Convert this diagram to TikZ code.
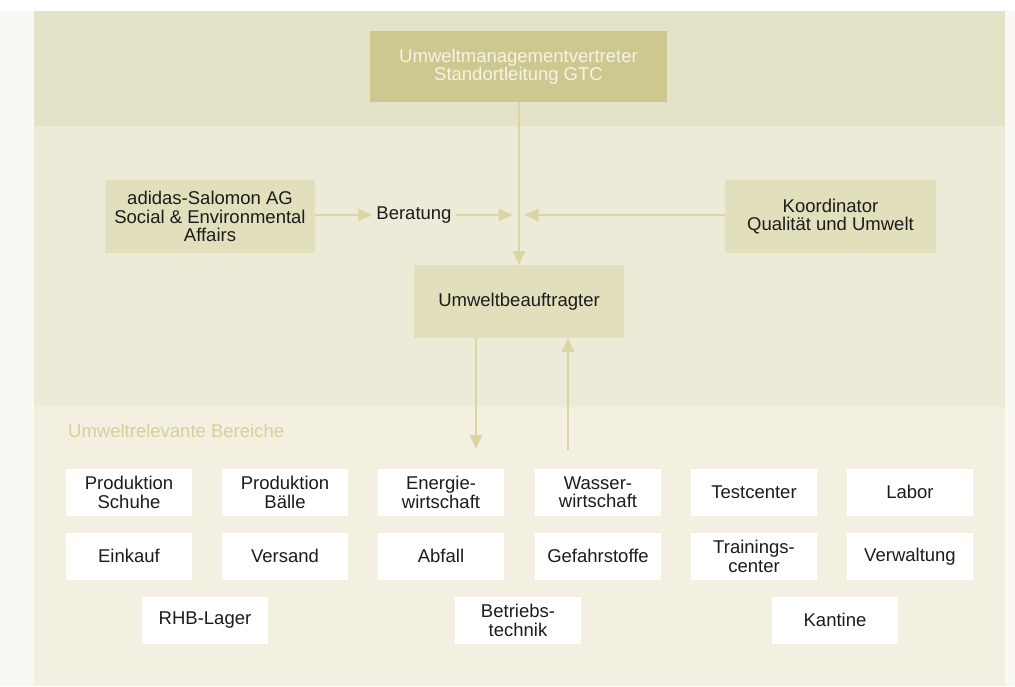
\documentclass[tikz,border=0pt]{standalone}
\usepackage{fontspec}
\setmainfont{Liberation Sans}
\usetikzlibrary{arrows.meta}
\definecolor{outerbg}{HTML}{F9F8F3}
\definecolor{topband}{HTML}{E4E3C7}
\definecolor{midband}{HTML}{ECEBD7}
\definecolor{botband}{HTML}{F3F0E2}
\definecolor{darkbox}{HTML}{CDC890}
\definecolor{lightbox}{HTML}{E2DFBC}
\definecolor{arrowcol}{HTML}{DAD5A3}
\definecolor{labelcol}{HTML}{D6CF98}
\definecolor{toptext}{HTML}{F6F4E4}
\definecolor{txt}{HTML}{1C1C1C}
\tikzset{
  basefont/.style={font=\fontsize{18.5}{18.3}\selectfont},
  boxbase/.style={basefont, align=center, inner sep=0pt, text=txt},
  topbox/.style={boxbase, fill=darkbox, text=toptext, minimum width=297pt, minimum height=71pt},
  midbox/.style={boxbase, fill=lightbox, minimum width=210pt, minimum height=72.5pt},
  areabox/.style={boxbase, fill=white, minimum width=126pt, minimum height=46.7pt},
  conn/.style={draw=arrowcol, line width=2.5pt, -{Triangle[length=14pt,width=12pt]}},
  plainconn/.style={draw=arrowcol, line width=2.5pt}
}
\begin{document}
\begin{tikzpicture}[x=1pt,y=-1pt]
\useasboundingbox (0,0) rectangle (1015,686);
\fill[white] (0,0) rectangle (1015,686);
\fill[outerbg] (0,11) rectangle (1015,686);
\fill[topband] (34,11) rectangle (1005,125.7);
\fill[midband] (34,125.7) rectangle (1005,407);
\fill[botband] (34,407) rectangle (1005,686);

\node[topbox] (umv) at (518.5,66.5) {Umweltmanagementvertreter\\Standortleitung GTC};
\node[midbox] (adidas) at (210,216.5) {adidas-Salomon AG\\Social \& Environmental\\Affairs};
\node[midbox, minimum width=211pt] (koord) at (830.5,216.5) {Koordinator\\Qualität und Umwelt};
\node[midbox] (ub) at (519,301.5) {Umweltbeauftragter};
\node[boxbase, anchor=center] (ber) at (414,215) {Beratung};

\coordinate (bertip) at (512.5,215);
\coordinate (kotip) at (524.5,215);
\coordinate (downend) at (476,449);
\coordinate (upstart) at (568,450);

\draw[conn] (umv.south -| ub.north) -- (ub.north);
\draw[conn] (adidas.east |- ber.west) -- ([xshift=-4pt]ber.west);
\draw[conn] ([xshift=4pt]ber.east) -- (bertip);
\draw[conn] (koord.west |- kotip) -- (kotip);
\draw[conn] (ub.south -| downend) -- (downend);
\draw[conn] (upstart) -- (ub.south -| upstart);

\node[basefont, text=labelcol, anchor=west, inner sep=0pt] (lbl) at (68,430.5) {Umweltrelevante Bereiche};

\node[areabox] (ps) at (129,492.3) {Produktion\\Schuhe};
\node[areabox] (pb) at (285,492.3) {Produktion\\Bälle};
\node[areabox] (ew) at (441,492.3) {Energie-\\wirtschaft};
\node[areabox] (ww) at (598,492.3) {Wasser-\\wirtschaft};
\node[areabox] (tc) at (754,492.3) {Testcenter};
\node[areabox] (lab) at (910,492.3) {Labor};

\node[areabox] (ek) at (129,556.3) {Einkauf};
\node[areabox] (vs) at (285,556.3) {Versand};
\node[areabox] (ab) at (441,556.3) {Abfall};
\node[areabox] (gs) at (598,556.3) {Gefahrstoffe};
\node[areabox] (trc) at (754,556.3) {Trainings-\\center};
\node[areabox] (vw) at (910,556.3) {Verwaltung};

\node[areabox] (rhb) at (205,620.3) {RHB-Lager};
\node[areabox] (bt) at (518,620.3) {Betriebs-\\technik};
\node[areabox] (kan) at (835,620.3) {Kantine};
\end{tikzpicture}
\end{document}
